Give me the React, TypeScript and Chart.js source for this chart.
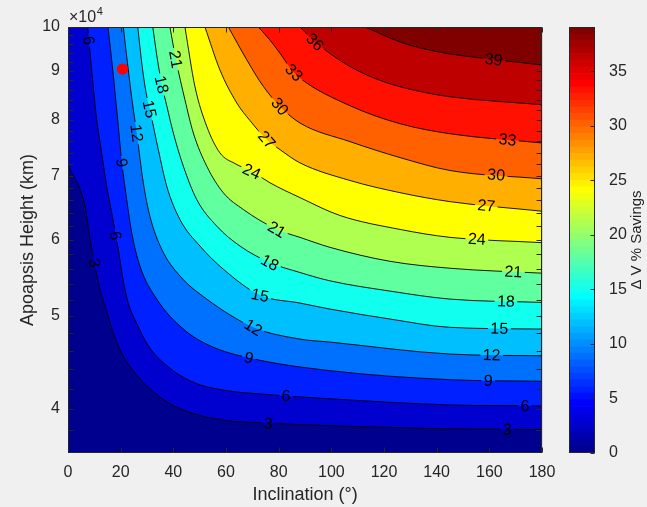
import React, { useEffect, useRef } from "react";
import { Chart, registerables } from "chart.js";

Chart.register(...registerables);

const FONT = "'Liberation Sans', Arial, Helvetica, sans-serif";
const TXT = "#262626";
const GRID = "rgba(38,38,38,0.15)";

// ---- data: contour lines, [inclination (deg), apoapsis height (km)] ----
const contour3: [number, number][] = [[0,71900],[6.5,65000],[8.4,60100],[11.5,54230],[14.7,50480],[19.1,46520],[24.2,44040],[31.1,41980],[40,40340],[50.1,39380],[60.3,38910],[72.9,38700],[107.1,38380],[145.1,38150],[180,38080]];
const contour6: [number, number][] = [[7.5,100000],[9.6,86700],[10.9,80100],[12.8,73900],[14.7,68300],[17.1,63000],[19.1,58700],[20.9,54600],[23.0,51450],[25.7,49400],[30.5,46560],[37.5,44390],[47.6,42660],[60.3,41810],[72.9,41480],[99.5,41000],[145.1,40400],[180,40300]];
const contour9: [number, number][] = [[15.2,100000],[17.0,90200],[18.7,81020],[20.4,72460],[22.3,66110],[24.2,61060],[27.3,56380],[33.7,52070],[43.8,48460],[53.9,46560],[69.1,45200],[99.5,43860],[145.1,42920],[180,42760]];
const contour12: [number, number][] = [[21.0,100000],[22.9,90200],[24.3,84000],[26.1,77550],[28.6,68820],[31.1,63530],[35.6,58670],[42.5,55050],[52.7,52070],[70.4,48660],[88.1,47310],[99.5,46970],[145.1,45640],[180,45450]];
const contour15: [number, number][] = [[26.5,100000],[28.1,91300],[29.6,85610],[31.1,82010],[34.3,74520],[37.5,68260],[42.5,63030],[50.1,59140],[59.0,55940],[72.9,52570],[88.1,51580],[99.5,50840],[122.3,49640],[145.1,48660],[180,48460]];
const contour18: [number, number][] = [[32.2,100000],[33.8,93080],[35.5,87460],[37.5,82790],[40.0,77550],[43.8,71610],[48.9,66110],[56.5,62030],[65.3,59140],[76.7,56830],[88.1,55500],[99.5,54400],[122.3,53080],[145.1,52070],[180,51660]];
const contour21: [number, number][] = [[38.7,100000],[41.0,92410],[44.4,84000],[47.6,77550],[52.7,71610],[59.0,67190],[66.6,64550],[79.3,61540],[88.1,60380],[99.5,58950],[122.3,57010],[145.1,56070],[180,55410]];
const contour24: [number, number][] = [[44.4,100000],[48.2,86700],[52.7,78790],[57.7,73940],[63.4,72070],[69.8,70710],[76.7,68820],[88.1,66420],[103.3,63630],[126.1,61540],[145.1,60380],[180,59620]];
const contour27: [number, number][] = [[52.0,100000],[57.7,90200],[64.1,83340],[69.1,79900],[75.5,76320],[80.5,74520],[88.1,72190],[107.1,69200],[126.1,67210],[145.1,65780],[180,64290]];
const contour30: [number, number][] = [[60.9,100000],[67.9,92410],[74.2,86700],[80.5,82660],[88.1,79430],[107.1,75960],[126.1,73110],[145.1,70880],[180,69480]];
const contour33: [number, number][] = [[72.3,100000],[76.7,96900],[80.5,93900],[85.0,90200],[88.1,88460],[107.1,82790],[126.1,79300],[145.1,77410],[180,75720]];
const contour36: [number, number][] = [[88.1,100000],[93.8,96500],[107.1,90950],[119.7,87740],[133.7,85670],[145.1,84590],[180,82990]];
const contour39: [number, number][] = [[112.8,100000],[126.1,96470],[133.7,95100],[145.1,93750],[156.5,92860],[180,91300]];

const contourLevels = [3, 6, 9, 12, 15, 18, 21, 24, 27, 30, 33, 36, 39];
const contourLines = [contour3, contour6, contour9, contour12, contour15, contour18, contour21, contour24, contour27, contour30, contour33, contour36, contour39];

// contour label positions
const labelLevels = [6, 3, 6, 9, 12, 15, 18, 21, 24, 27, 30, 33, 36, 21, 18, 15, 12, 9, 6, 3, 39, 33, 30, 27, 24, 21, 18, 15, 12, 9, 6, 3];
const labelX = [7.3, 10.3, 18.6, 20.9, 26.3, 30.1, 35.2, 39.4, 69.8, 75.5, 80.5, 85.6, 93.8, 79.3, 76.7, 72.9, 70.4, 68.5, 82.8, 76.1, 161.5, 166.8, 162.5, 158.7, 155.2, 169.1, 166.3, 163.8, 160.9, 159.6, 173.5, 166.8];
const labelY = [96780, 56830, 60670, 72240, 77550, 82010, 87050, 92400, 70760, 76320, 82660, 89530, 96500, 61540, 56830, 52480, 48660, 45090, 41160, 38450, 91700, 75720, 69650, 64450, 59620, 55410, 51660, 48460, 45450, 42760, 40280, 38080];

// marked orbit
const pointX = [20.7];
const pointY = [90400];

// axes
const xMin = 0, xMax = 180;
const yMin = 36000, yMax = 100000;
const xTicks = [0, 20, 40, 60, 80, 100, 120, 140, 160, 180];
const yTicks = [40000, 50000, 60000, 70000, 80000, 90000, 100000];
const yMinorTicks = [38000, 42000, 44000, 46000, 48000, 52000, 54000, 56000, 58000, 62000, 64000, 66000, 68000, 72000, 74000, 76000, 78000, 82000, 84000, 86000, 88000, 92000, 94000, 96000, 98000];
const zMin = 0, zMax = 39.05;
const cbarTicks = [0, 5, 10, 15, 20, 25, 30, 35];

// MATLAB jet(64)
function jet(n: number): string[] {
  const m = Math.ceil(n / 4);
  const u: number[] = [];
  for (let i = 1; i <= m; i++) u.push(i / m);
  for (let i = 0; i < m - 1; i++) u.push(1);
  for (let i = m; i >= 1; i--) u.push(i / m);
  const g0 = Math.ceil(m / 2) - (n % 4 === 1 ? 1 : 0);
  const r = new Array(n).fill(0), g = new Array(n).fill(0), b = new Array(n).fill(0);
  for (let k = 0; k < u.length; k++) {
    const gi = g0 + k + 1, ri = gi + m, bi = gi - m;
    if (gi >= 1 && gi <= n) g[gi - 1] = u[k];
    if (ri >= 1 && ri <= n) r[ri - 1] = u[k];
    if (bi >= 1 && bi <= n) b[bi - 1] = u[k];
  }
  return r.map((_, i) => `rgb(${Math.round(r[i] * 255)},${Math.round(g[i] * 255)},${Math.round(b[i] * 255)})`);
}
const JET = jet(64);
function levelColor(v: number): string {
  let idx = Math.floor(((v - zMin) / (zMax - zMin)) * 64);
  idx = Math.max(0, Math.min(63, idx));
  return JET[idx];
}

type LabelGeo = { text: string; cx: number; cy: number; ang: number; w: number; h: number };

function computeLabels(chart: any): LabelGeo[] {
  const ctx: CanvasRenderingContext2D = chart.ctx;
  const xs = chart.scales.x, ys = chart.scales.y;
  ctx.save();
  ctx.font = `16px ${FONT}`;
  const out: LabelGeo[] = labelLevels.map((L, j) => {
    const li = contourLevels.indexOf(L);
    const pts = chart.getDatasetMeta(li + 1).data as any[];
    const px = xs.getPixelForValue(labelX[j]);
    const py = ys.getPixelForValue(labelY[j]);
    let best = Infinity, ang = 0, cx = px, cy = py;
    for (let k = 0; k < pts.length - 1; k++) {
      const a = pts[k], b = pts[k + 1];
      const dx = b.x - a.x, dy = b.y - a.y;
      const len2 = dx * dx + dy * dy || 1;
      let t = ((px - a.x) * dx + (py - a.y) * dy) / len2;
      t = Math.max(0, Math.min(1, t));
      const qx = a.x + t * dx, qy = a.y + t * dy;
      const d = (qx - px) ** 2 + (qy - py) ** 2;
      if (d < best) { best = d; ang = Math.atan2(dy, dx); cx = qx; cy = qy; }
    }
    if (ang > Math.PI / 2) ang -= Math.PI;
    if (ang <= -Math.PI / 2) ang += Math.PI;
    const text = String(L);
    return { text, cx, cy, ang, w: ctx.measureText(text).width + 5, h: 13 };
  });
  ctx.restore();
  return out;
}

const labelPlugin = {
  id: "contourLabels",
  beforeDatasetsDraw(chart: any) {
    chart.$contourLabels = computeLabels(chart);
  },
  beforeDatasetDraw(chart: any, args: any) {
    const ds = chart.data.datasets[args.index];
    if (!ds.isContour) return;
    const ctx: CanvasRenderingContext2D = chart.ctx;
    ctx.save();
    ctx.beginPath();
    ctx.rect(0, 0, chart.width, chart.height);
    (chart.$contourLabels as LabelGeo[]).forEach((g) => {
      const c = Math.cos(g.ang), s = Math.sin(g.ang);
      const hw = g.w / 2, hh = g.h / 2;
      const corners = [[-hw, -hh], [hw, -hh], [hw, hh], [-hw, hh]].map(([u, v]) => [g.cx + u * c - v * s, g.cy + u * s + v * c]);
      ctx.moveTo(corners[0][0], corners[0][1]);
      for (let i = 1; i < 4; i++) ctx.lineTo(corners[i][0], corners[i][1]);
      ctx.closePath();
    });
    ctx.clip("evenodd");
  },
  afterDatasetDraw(chart: any, args: any) {
    const ds = chart.data.datasets[args.index];
    if (!ds.isContour) return;
    chart.ctx.restore();
  },
  afterDatasetsDraw(chart: any) {
    const ctx: CanvasRenderingContext2D = chart.ctx;
    ctx.save();
    ctx.fillStyle = "#000";
    ctx.textAlign = "center";
    ctx.textBaseline = "middle";
    ctx.font = `16px ${FONT}`;
    (chart.$contourLabels as LabelGeo[]).forEach((g) => {
      ctx.save();
      ctx.translate(g.cx, g.cy);
      ctx.rotate(g.ang);
      ctx.fillText(g.text, 0, 1);
      ctx.restore();
    });
    ctx.restore();
  },
};

const framePlugin = {
  id: "frame",
  afterDraw(chart: any) {
    const ctx: CanvasRenderingContext2D = chart.ctx;
    const a = chart.chartArea;
    const xs = chart.scales.x, ys = chart.scales.y;
    const L = Math.round(a.left) + 0.5, R = Math.round(a.right) - 0.5;
    const T = Math.round(a.top) + 0.5, B = Math.round(a.bottom) - 0.5;
    ctx.save();
    ctx.strokeStyle = TXT;
    ctx.lineWidth = 1;
    ctx.beginPath();
    ctx.rect(L, T, R - L, B - T);
    ctx.stroke();
    ctx.beginPath();
    const tl = 5;
    xTicks.forEach((v) => {
      const p = Math.round(xs.getPixelForValue(v)) + 0.5;
      ctx.moveTo(p, B); ctx.lineTo(p, B - tl);
      ctx.moveTo(p, T); ctx.lineTo(p, T + tl);
    });
    [...yTicks, ...yMinorTicks].forEach((v) => {
      const p = Math.round(ys.getPixelForValue(v)) + 0.5;
      ctx.moveTo(L, p); ctx.lineTo(L + tl, p);
      ctx.moveTo(R, p); ctx.lineTo(R - tl, p);
    });
    ctx.stroke();
    // exponent label
    ctx.fillStyle = TXT;
    ctx.textAlign = "left";
    ctx.textBaseline = "alphabetic";
    ctx.font = `16px ${FONT}`;
    ctx.fillText("\u00d710", 69, 21.5);
    const w = ctx.measureText("\u00d710").width;
    ctx.font = `11px ${FONT}`;
    ctx.fillText("4", 69 + w + 0.5, 15);
    ctx.restore();
  },
};

const cbarPlugin = {
  id: "cbarFrame",
  afterDraw(chart: any) {
    const ctx: CanvasRenderingContext2D = chart.ctx;
    const a = chart.chartArea;
    const ys = chart.scales.y;
    const L = Math.round(a.left) + 0.5, R = Math.round(a.right) - 0.5;
    const T = Math.round(a.top) + 0.5, B = Math.round(a.bottom) - 0.5;
    ctx.save();
    ctx.strokeStyle = TXT;
    ctx.lineWidth = 1;
    ctx.beginPath();
    ctx.rect(L, T, R - L, B - T);
    cbarTicks.forEach((v) => {
      const p = Math.round(ys.getPixelForValue(v)) + 0.5;
      ctx.moveTo(R, p); ctx.lineTo(R - 4, p);
    });
    ctx.stroke();
    ctx.translate(94.5, (a.top + a.bottom) / 2);
    ctx.rotate(-Math.PI / 2);
    ctx.fillStyle = TXT;
    ctx.textAlign = "center";
    ctx.textBaseline = "middle";
    ctx.font = `15px ${FONT}`;
    ctx.fillText("\u0394 V % Savings", 0, 0);
    ctx.restore();
  },
};

export default function App() {
  const mainRef = useRef<HTMLCanvasElement>(null);
  const cbRef = useRef<HTMLCanvasElement>(null);

  useEffect(() => {
    Chart.defaults.font.family = FONT;
    const datasets: any[] = [];
    datasets.push({
      label: "base",
      data: [{ x: xMin, y: yMin }, { x: xMax, y: yMin }],
      fill: "end",
      backgroundColor: levelColor(zMin),
      borderWidth: 0,
      pointRadius: 0,
      order: 0,
    });
    contourLevels.forEach((L, i) => {
      datasets.push({
        label: `c${L}`,
        isContour: true,
        data: contourLines[i].map(([x, y]) => ({ x, y })),
        fill: "end",
        backgroundColor: levelColor(L),
        borderColor: "#000",
        borderWidth: 0.9,
        pointRadius: 0,
        cubicInterpolationMode: "monotone",
        order: -L,
      });
    });
    datasets.push({
      label: "orbit",
      data: pointX.map((x, i) => ({ x, y: pointY[i] })),
      showLine: false,
      fill: false,
      pointRadius: 5.7,
      pointBackgroundColor: "rgb(255,0,0)",
      pointBorderWidth: 0,
      order: -100,
    });

    const main = new Chart(mainRef.current as HTMLCanvasElement, {
      type: "line",
      data: { datasets },
      options: {
        responsive: false,
        animation: false,
        events: [],
        layout: { padding: { left: 0, top: 27, right: 105, bottom: 0 } },
        plugins: { legend: { display: false }, tooltip: { enabled: false }, filler: { drawTime: "beforeDatasetDraw" } },
        scales: {
          x: {
            type: "linear",
            min: xMin,
            max: xMax,
            z: 1,
            afterBuildTicks: (s: any) => { s.ticks = xTicks.map((v) => ({ value: v })); },
            afterFit: (s: any) => { s.height = 54; },
            ticks: { color: TXT, font: { size: 16, family: FONT }, padding: 10, maxRotation: 0, autoSkip: false },
            grid: { color: GRID, drawTicks: false, lineWidth: 1 },
            border: { display: false },
            title: { display: true, text: "Inclination (\u00b0)", color: TXT, font: { size: 18, family: FONT }, padding: { top: 0, bottom: 1 } },
          },
          y: {
            type: "logarithmic",
            min: yMin,
            max: yMax,
            z: 1,
            afterBuildTicks: (s: any) => { s.ticks = yTicks.map((v) => ({ value: v })); },
            afterFit: (s: any) => { s.width = 68; },
            ticks: { color: TXT, font: { size: 16, family: FONT }, padding: 8, autoSkip: false, callback: (v: any) => String(Number(v) / 10000) },
            grid: { color: GRID, drawTicks: false, lineWidth: 1 },
            border: { display: false },
            title: { display: true, text: "Apoapsis Height (km)", color: TXT, font: { size: 18, family: FONT }, padding: { top: 17, bottom: 0 } },
          },
        },
      } as any,
      plugins: [labelPlugin, framePlugin],
    });

    const bandSize = (zMax - zMin) / JET.length;
    const cb = new Chart(cbRef.current as HTMLCanvasElement, {
      type: "bar",
      data: {
        labels: ["cbar"],
        datasets: JET.map((c) => ({
          data: [bandSize],
          backgroundColor: c,
          borderWidth: 0,
          barPercentage: 1,
          categoryPercentage: 1,
          stack: "cb",
        })),
      },
      options: {
        responsive: false,
        animation: false,
        events: [],
        layout: { padding: { left: 27, top: 27, right: 0, bottom: 54 } },
        plugins: { legend: { display: false }, tooltip: { enabled: false } },
        scales: {
          x: { display: false, stacked: true },
          y: {
            position: "right",
            stacked: true,
            min: zMin,
            max: zMax,
            afterBuildTicks: (s: any) => { s.ticks = cbarTicks.map((v) => ({ value: v })); },
            afterFit: (s: any) => { s.width = 52; },
            ticks: { color: TXT, font: { size: 16, family: FONT }, padding: 6 },
            grid: { display: false },
            border: { display: false },
          },
        },
      } as any,
      plugins: [cbarPlugin],
    });

    return () => {
      main.destroy();
      cb.destroy();
    };
  }, []);

  return (
    <div style={{ position: "fixed", left: 0, top: 0, width: 647, height: 507, background: "#f0f0f0", overflow: "hidden" }}>
      <canvas ref={mainRef} width={647} height={507} style={{ position: "absolute", left: 0, top: 0 }} />
      <canvas ref={cbRef} width={105} height={507} style={{ position: "absolute", left: 542, top: 0 }} />
    </div>
  );
}
